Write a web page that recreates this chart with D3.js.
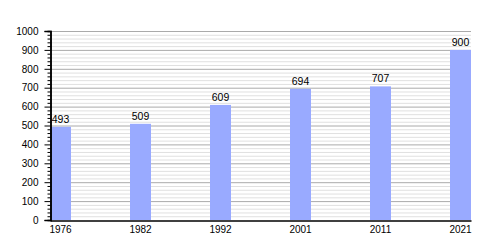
<!DOCTYPE html>
<html><head><meta charset="utf-8">
<script src="https://cdn.jsdelivr.net/npm/d3@7"></script>
<style>body{margin:0;background:#fff}svg{display:block}</style>
</head><body>
<script>
const years = ["1976","1982","1992","2001","2011","2021"];
const population = [493, 509, 609, 694, 707, 900];
const yTicks = [0,100,200,300,400,500,600,700,800,900,1000];

(function () {
const W = 500, H = 250;
const mLeft = 50, mRight = 471, mTop = 31, mBottom = 220;
const svg = d3.select("body").append("svg").attr("width", W).attr("height", H);

const x = d3.scaleBand().domain(years).range([mLeft, mRight]).paddingInner(0.7375).paddingOuter(0);
const y = d3.scaleLinear().domain([0, 1000]).range([mBottom, mTop]);

const minor = d3.range(0, 1001, 20).filter(v => v % 100 !== 0);
svg.append("g").selectAll("line").data(minor).join("line")
  .attr("x1", mLeft).attr("x2", mRight).attr("y1", d => y(d) + 0.5).attr("y2", d => y(d) + 0.5)
  .attr("stroke", "#e0e0e0").attr("stroke-width", 1);
svg.append("g").selectAll("line").data(yTicks.filter(v => v > 0)).join("line")
  .attr("x1", mLeft).attr("x2", mRight).attr("y1", d => y(d) + 0.5).attr("y2", d => y(d) + 0.5)
  .attr("stroke", "#aaaaaa").attr("stroke-width", 1);

svg.append("g").selectAll("rect").data(population).join("rect")
  .attr("x", (d, i) => x(years[i])).attr("width", x.bandwidth())
  .attr("y", d => y(d)).attr("height", d => y(0) - y(d))
  .attr("fill", "#99aaff");

svg.append("g").selectAll("text").data(population).join("text")
  .attr("x", (d, i) => x(years[i]) + x.bandwidth() / 2).attr("y", d => y(d) - 4)
  .attr("text-anchor", "middle").attr("font-family", "Liberation Sans, Arial, sans-serif")
  .attr("font-size", 10.5).attr("fill", "#000").text(d => d);

// y axis
const yAxis = svg.append("g").attr("transform", `translate(${mLeft + 0.5},0)`);
yAxis.call(d3.axisLeft(y).tickValues(minor).tickSize(3).tickFormat(""));
yAxis.append("g").call(d3.axisLeft(y).tickValues(yTicks).tickSize(6).tickPadding(6).tickFormat(d3.format("d")));
yAxis.selectAll(".domain").attr("stroke", "#000").attr("stroke-width", 1.5);
yAxis.selectAll("text").attr("font-family", "Liberation Sans, Arial, sans-serif").attr("font-size", 10).attr("fill", "#000");
yAxis.selectAll(".tick line").attr("stroke", "#000");

// x axis
const xAxis = svg.append("g").attr("transform", `translate(0,${mBottom + 0.5})`);
xAxis.call(d3.axisBottom(x).tickSize(0).tickPadding(5));
xAxis.select(".domain").attr("stroke", "#000").attr("stroke-width", 1.5);
xAxis.selectAll("text").attr("font-family", "Liberation Sans, Arial, sans-serif").attr("font-size", 10).attr("fill", "#000");
})();
</script>
</body></html>
